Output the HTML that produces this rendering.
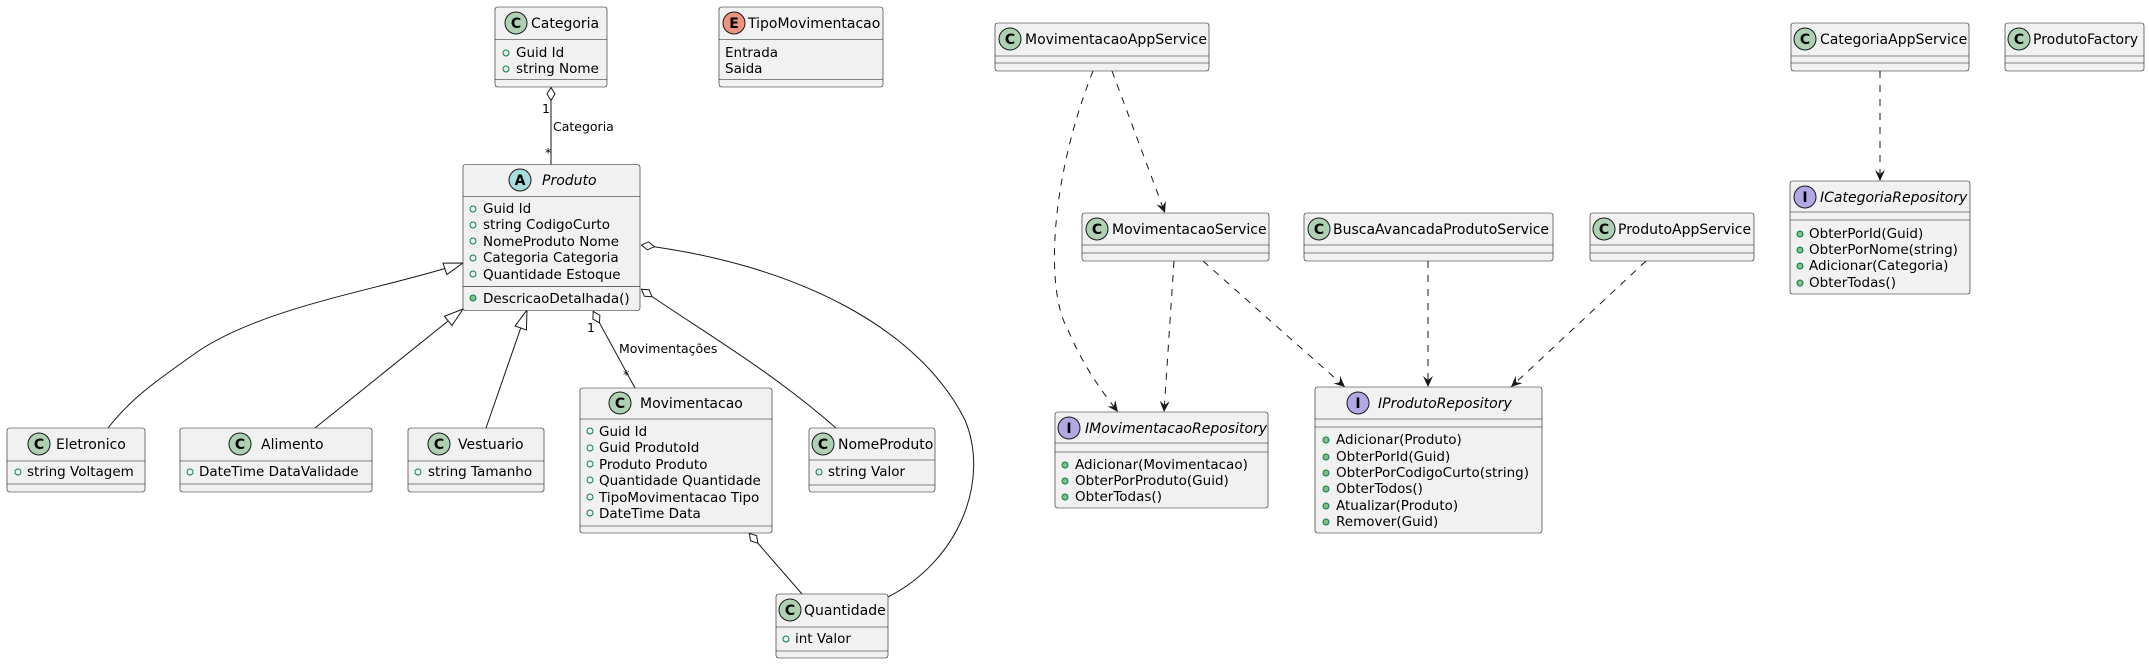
<!DOCTYPE html>
<html><head><meta charset="utf-8"><style>
html,body{margin:0;padding:0;background:#fff;}
svg{display:block;}
text{font-family:"DejaVu Sans","Liberation Sans",sans-serif;fill:#000;}
.n{font-size:14px;}
.a{font-size:13.5px;}
.l{font-size:12.5px;}
.box{fill:#F1F1F1;stroke:#181818;stroke-width:0.6;}
.sep{stroke:#181818;stroke-width:0.6;}
.ln{fill:none;stroke:#181818;stroke-width:1;}
.dl{fill:none;stroke:#181818;stroke-width:1;stroke-dasharray:7,7;}
.fm{fill:none;stroke:#038048;stroke-width:1;}
.mm{fill:#84BE84;stroke:#038048;stroke-width:1;}
.g{font-size:14px;font-weight:bold;}
</style></head><body>
<svg width="2149" height="664" xmlns="http://www.w3.org/2000/svg">
<defs>
<marker id="tri" markerUnits="userSpaceOnUse" markerWidth="24" markerHeight="16" refX="20" refY="7" orient="auto"><path d="M1,1 L20,7 L1,13 Z" fill="#fff" stroke="#181818" stroke-width="1"/></marker>
<marker id="arr" markerUnits="userSpaceOnUse" markerWidth="14" markerHeight="12" refX="11" refY="5" orient="auto"><path d="M0,0 L11,5 L0,10 L4,5 Z" fill="#181818"/></marker>
<marker id="dia" markerUnits="userSpaceOnUse" markerWidth="16" markerHeight="12" refX="0" refY="5" orient="auto"><path d="M0.5,5 L7,1 L13.5,5 L7,9 Z" fill="#fff" stroke="#181818" stroke-width="1"/></marker>
</defs>

<!-- links -->
<line class="ln" x1="551" y1="87" x2="551" y2="164.5" marker-start="url(#dia)"/>
<text class="l" x="542" y="113">1</text>
<text class="l" x="553" y="131">Categoria</text>
<text class="l" x="545" y="157">*</text>

<path class="ln" d="M108,428 C130,400 150,385 200,350 C270,305 380,290 463,263" marker-end="url(#tri)"/>
<line class="ln" x1="315" y1="428" x2="463" y2="309" marker-end="url(#tri)"/>
<line class="ln" x1="486" y1="428" x2="527" y2="310" marker-end="url(#tri)"/>

<line class="ln" x1="593" y1="311" x2="635" y2="388" marker-start="url(#dia)"/>
<text class="l" x="587" y="332">1</text>
<text class="l" x="619" y="353">Movimentações</text>
<text class="l" x="623" y="379">*</text>

<path class="ln" d="M641,289 C700,330 770,370 836,428" marker-start="url(#dia)"/>
<path class="ln" d="M641,245 C800,265 920,330 965,420 C990,480 960,560 888,597" marker-start="url(#dia)"/>
<line class="ln" x1="749" y1="533" x2="802" y2="594" marker-start="url(#dia)"/>

<line class="dl" x1="1112" y1="71" x2="1165" y2="213" marker-end="url(#arr)"/>
<path class="dl" d="M1093,71 C1050,180 1045,290 1068,330 C1085,370 1105,395 1118,412" marker-end="url(#arr)"/>
<line class="dl" x1="1174" y1="261" x2="1164" y2="412" marker-end="url(#arr)"/>
<line class="dl" x1="1203" y1="261" x2="1345" y2="387" marker-end="url(#arr)"/>
<line class="dl" x1="1428" y1="261" x2="1428" y2="387" marker-end="url(#arr)"/>
<line class="dl" x1="1646" y1="261" x2="1511" y2="387" marker-end="url(#arr)"/>
<line class="dl" x1="1880" y1="71" x2="1880" y2="181" marker-end="url(#arr)"/>

<!-- Categoria -->
<rect class="box" x="495" y="7" width="112" height="80" rx="2.5"/>
<line class="sep" x1="495" y1="39.5" x2="607" y2="39.5"/><line class="sep" x1="495" y1="79.5" x2="607" y2="79.5"/>
<circle cx="516" cy="23" r="11" fill="#ADD1B2" stroke="#181818" stroke-width="1"/><text class="g" x="516" y="28" text-anchor="middle">C</text>
<text class="n" x="531" y="28">Categoria</text>
<circle class="fm" cx="506" cy="53" r="3"/><text class="a" x="516" y="57">Guid Id</text>
<circle class="fm" cx="506" cy="69" r="3"/><text class="a" x="516" y="73">string Nome</text>

<!-- TipoMovimentacao -->
<rect class="box" x="719" y="7" width="164" height="80" rx="2.5"/>
<line class="sep" x1="719" y1="39.5" x2="883" y2="39.5"/><line class="sep" x1="719" y1="79.5" x2="883" y2="79.5"/>
<circle cx="734" cy="23" r="11" fill="#EB937F" stroke="#181818" stroke-width="1"/><text class="g" x="734" y="28" text-anchor="middle">E</text>
<text class="n" x="748" y="28">TipoMovimentacao</text>
<text class="a" x="725" y="57">Entrada</text>
<text class="a" x="725" y="73">Saida</text>

<!-- Produto -->
<rect class="box" x="463" y="164.5" width="177" height="146" rx="2.5"/>
<line class="sep" x1="463" y1="196.5" x2="640" y2="196.5"/><line class="sep" x1="463" y1="286.7" x2="640" y2="286.7"/>
<circle cx="520" cy="180" r="11" fill="#A9DCDF" stroke="#181818" stroke-width="1"/><text class="g" x="520" y="185" text-anchor="middle">A</text>
<text class="n" x="542" y="185" font-style="italic">Produto</text>
<circle class="fm" cx="473" cy="209" r="3"/><text class="a" x="483" y="213">Guid Id</text>
<circle class="fm" cx="473" cy="225" r="3"/><text class="a" x="483" y="229">string CodigoCurto</text>
<circle class="fm" cx="473" cy="241" r="3"/><text class="a" x="483" y="246">NomeProduto Nome</text>
<circle class="fm" cx="473" cy="258" r="3"/><text class="a" x="483" y="262">Categoria Categoria</text>
<circle class="fm" cx="473" cy="274" r="3"/><text class="a" x="483" y="279">Quantidade Estoque</text>
<circle class="mm" cx="473" cy="298" r="3"/><text class="a" x="483" y="303">DescricaoDetalhada()</text>

<!-- Eletronico -->
<rect class="box" x="7" y="428" width="138" height="64" rx="2.5"/>
<line class="sep" x1="7" y1="461" x2="145" y2="461"/><line class="sep" x1="7" y1="484" x2="145" y2="484"/>
<circle cx="39" cy="444" r="11" fill="#ADD1B2" stroke="#181818" stroke-width="1"/><text class="g" x="39" y="449" text-anchor="middle">C</text>
<text class="n" x="56" y="449">Eletronico</text>
<circle class="fm" cx="18" cy="472" r="3"/><text class="a" x="27" y="476">string Voltagem</text>

<!-- Alimento -->
<rect class="box" x="180" y="428" width="192" height="64" rx="2.5"/>
<line class="sep" x1="180" y1="461" x2="372" y2="461"/><line class="sep" x1="180" y1="484" x2="372" y2="484"/>
<circle cx="240" cy="444" r="11" fill="#ADD1B2" stroke="#181818" stroke-width="1"/><text class="g" x="240" y="449" text-anchor="middle">C</text>
<text class="n" x="261" y="449">Alimento</text>
<circle class="fm" cx="190" cy="472" r="3"/><text class="a" x="199" y="476">DateTime DataValidade</text>

<!-- Vestuario -->
<rect class="box" x="408" y="428" width="136" height="64" rx="2.5"/>
<line class="sep" x1="408" y1="461" x2="544" y2="461"/><line class="sep" x1="408" y1="484" x2="544" y2="484"/>
<circle cx="439" cy="444" r="11" fill="#ADD1B2" stroke="#181818" stroke-width="1"/><text class="g" x="439" y="449" text-anchor="middle">C</text>
<text class="n" x="458" y="449">Vestuario</text>
<circle class="fm" cx="418" cy="472" r="3"/><text class="a" x="428" y="476">string Tamanho</text>

<!-- Movimentacao -->
<rect class="box" x="580" y="388" width="192" height="145" rx="2.5"/>
<line class="sep" x1="580" y1="419" x2="772" y2="419"/><line class="sep" x1="580" y1="526" x2="772" y2="526"/>
<circle cx="620" cy="403" r="11" fill="#ADD1B2" stroke="#181818" stroke-width="1"/><text class="g" x="620" y="408" text-anchor="middle">C</text>
<text class="n" x="640" y="408">Movimentacao</text>
<circle class="fm" cx="590" cy="431" r="3"/><text class="a" x="599" y="436">Guid Id</text>
<circle class="fm" cx="590" cy="448" r="3"/><text class="a" x="599" y="452">Guid ProdutoId</text>
<circle class="fm" cx="590" cy="464" r="3"/><text class="a" x="599" y="469">Produto Produto</text>
<circle class="fm" cx="590" cy="480" r="3"/><text class="a" x="599" y="485">Quantidade Quantidade</text>
<circle class="fm" cx="590" cy="497" r="3"/><text class="a" x="599" y="502">TipoMovimentacao Tipo</text>
<circle class="fm" cx="590" cy="513" r="3"/><text class="a" x="599" y="518">DateTime Data</text>

<!-- NomeProduto -->
<rect class="box" x="809" y="428" width="126" height="64" rx="2.5"/>
<line class="sep" x1="809" y1="460" x2="935" y2="460"/><line class="sep" x1="809" y1="485" x2="935" y2="485"/>
<circle cx="823" cy="444" r="11" fill="#ADD1B2" stroke="#181818" stroke-width="1"/><text class="g" x="823" y="449" text-anchor="middle">C</text>
<text class="n" x="838" y="449">NomeProduto</text>
<circle class="fm" cx="819" cy="472" r="3"/><text class="a" x="828" y="476">string Valor</text>

<!-- Quantidade -->
<rect class="box" x="776" y="594" width="112" height="64" rx="2.5"/>
<line class="sep" x1="776" y1="627" x2="888" y2="627"/><line class="sep" x1="776" y1="651" x2="888" y2="651"/>
<circle cx="790" cy="610" r="11" fill="#ADD1B2" stroke="#181818" stroke-width="1"/><text class="g" x="790" y="615" text-anchor="middle">C</text>
<text class="n" x="804" y="615">Quantidade</text>
<circle class="fm" cx="786" cy="639" r="3"/><text class="a" x="795" y="643">int Valor</text>

<!-- MovimentacaoAppService -->
<rect class="box" x="995" y="23" width="214" height="48" rx="2.5"/>
<line class="sep" x1="995" y1="56" x2="1209" y2="56"/><line class="sep" x1="995" y1="63" x2="1209" y2="63"/>
<circle cx="1010" cy="39" r="11" fill="#ADD1B2" stroke="#181818" stroke-width="1"/><text class="g" x="1010" y="44" text-anchor="middle">C</text>
<text class="n" x="1025" y="44">MovimentacaoAppService</text>

<!-- MovimentacaoService -->
<rect class="box" x="1082" y="213" width="187" height="48" rx="2.5"/>
<line class="sep" x1="1082" y1="245" x2="1269" y2="245"/><line class="sep" x1="1082" y1="253" x2="1269" y2="253"/>
<circle cx="1097" cy="229" r="11" fill="#ADD1B2" stroke="#181818" stroke-width="1"/><text class="g" x="1097" y="234" text-anchor="middle">C</text>
<text class="n" x="1112" y="234">MovimentacaoService</text>

<!-- BuscaAvancadaProdutoService -->
<rect class="box" x="1304" y="213" width="249" height="48" rx="2.5"/>
<line class="sep" x1="1304" y1="245" x2="1553" y2="245"/><line class="sep" x1="1304" y1="253" x2="1553" y2="253"/>
<circle cx="1319" cy="229" r="11" fill="#ADD1B2" stroke="#181818" stroke-width="1"/><text class="g" x="1319" y="234" text-anchor="middle">C</text>
<text class="n" x="1333" y="234">BuscaAvancadaProdutoService</text>

<!-- ProdutoAppService -->
<rect class="box" x="1590" y="213" width="164" height="48" rx="2.5"/>
<line class="sep" x1="1590" y1="245" x2="1754" y2="245"/><line class="sep" x1="1590" y1="253" x2="1754" y2="253"/>
<circle cx="1604" cy="229" r="11" fill="#ADD1B2" stroke="#181818" stroke-width="1"/><text class="g" x="1604" y="234" text-anchor="middle">C</text>
<text class="n" x="1618" y="234">ProdutoAppService</text>

<!-- CategoriaAppService -->
<rect class="box" x="1791" y="23" width="178" height="48" rx="2.5"/>
<line class="sep" x1="1791" y1="56" x2="1969" y2="56"/><line class="sep" x1="1791" y1="63" x2="1969" y2="63"/>
<circle cx="1805" cy="39" r="11" fill="#ADD1B2" stroke="#181818" stroke-width="1"/><text class="g" x="1805" y="44" text-anchor="middle">C</text>
<text class="n" x="1820" y="44">CategoriaAppService</text>

<!-- ProdutoFactory -->
<rect class="box" x="2005" y="23" width="139" height="48" rx="2.5"/>
<line class="sep" x1="2005" y1="56" x2="2144" y2="56"/><line class="sep" x1="2005" y1="63" x2="2144" y2="63"/>
<circle cx="2019" cy="39" r="11" fill="#ADD1B2" stroke="#181818" stroke-width="1"/><text class="g" x="2019" y="44" text-anchor="middle">C</text>
<text class="n" x="2033" y="44">ProdutoFactory</text>

<!-- IMovimentacaoRepository -->
<rect class="box" x="1055" y="412" width="213" height="96" rx="2.5"/>
<line class="sep" x1="1055" y1="443" x2="1268" y2="443"/><line class="sep" x1="1055" y1="452" x2="1268" y2="452"/>
<circle cx="1069" cy="428" r="11" fill="#B4A7E5" stroke="#181818" stroke-width="1"/><text class="g" x="1069" y="433" text-anchor="middle">I</text>
<text class="n" x="1085" y="433" font-style="italic">IMovimentacaoRepository</text>
<circle class="mm" cx="1065" cy="465" r="3"/><text class="a" x="1075" y="469">Adicionar(Movimentacao)</text>
<circle class="mm" cx="1065" cy="481" r="3"/><text class="a" x="1075" y="485">ObterPorProduto(Guid)</text>
<circle class="mm" cx="1065" cy="497" r="3"/><text class="a" x="1075" y="501">ObterTodas()</text>

<!-- IProdutoRepository -->
<rect class="box" x="1315" y="387" width="227" height="146" rx="2.5"/>
<line class="sep" x1="1315" y1="419" x2="1542" y2="419"/><line class="sep" x1="1315" y1="427" x2="1542" y2="427"/>
<circle cx="1358" cy="403" r="11" fill="#B4A7E5" stroke="#181818" stroke-width="1"/><text class="g" x="1358" y="408" text-anchor="middle">I</text>
<text class="n" x="1378" y="408" font-style="italic">IProdutoRepository</text>
<circle class="mm" cx="1326" cy="440" r="3"/><text class="a" x="1336" y="444">Adicionar(Produto)</text>
<circle class="mm" cx="1326" cy="457" r="3"/><text class="a" x="1336" y="461">ObterPorId(Guid)</text>
<circle class="mm" cx="1326" cy="473" r="3"/><text class="a" x="1336" y="477">ObterPorCodigoCurto(string)</text>
<circle class="mm" cx="1326" cy="489" r="3"/><text class="a" x="1336" y="493">ObterTodos()</text>
<circle class="mm" cx="1326" cy="506" r="3"/><text class="a" x="1336" y="510">Atualizar(Produto)</text>
<circle class="mm" cx="1326" cy="522" r="3"/><text class="a" x="1336" y="526">Remover(Guid)</text>

<!-- ICategoriaRepository -->
<rect class="box" x="1790" y="181" width="180" height="113" rx="2.5"/>
<line class="sep" x1="1790" y1="212" x2="1970" y2="212"/><line class="sep" x1="1790" y1="220" x2="1970" y2="220"/>
<circle cx="1805" cy="197" r="11" fill="#B4A7E5" stroke="#181818" stroke-width="1"/><text class="g" x="1805" y="202" text-anchor="middle">I</text>
<text class="n" x="1820" y="202" font-style="italic">ICategoriaRepository</text>
<circle class="mm" cx="1800" cy="234" r="3"/><text class="a" x="1809" y="238">ObterPorId(Guid)</text>
<circle class="mm" cx="1800" cy="250" r="3"/><text class="a" x="1809" y="254">ObterPorNome(string)</text>
<circle class="mm" cx="1800" cy="266" r="3"/><text class="a" x="1809" y="270">Adicionar(Categoria)</text>
<circle class="mm" cx="1800" cy="283" r="3"/><text class="a" x="1809" y="287">ObterTodas()</text>
</svg>
</body></html>
